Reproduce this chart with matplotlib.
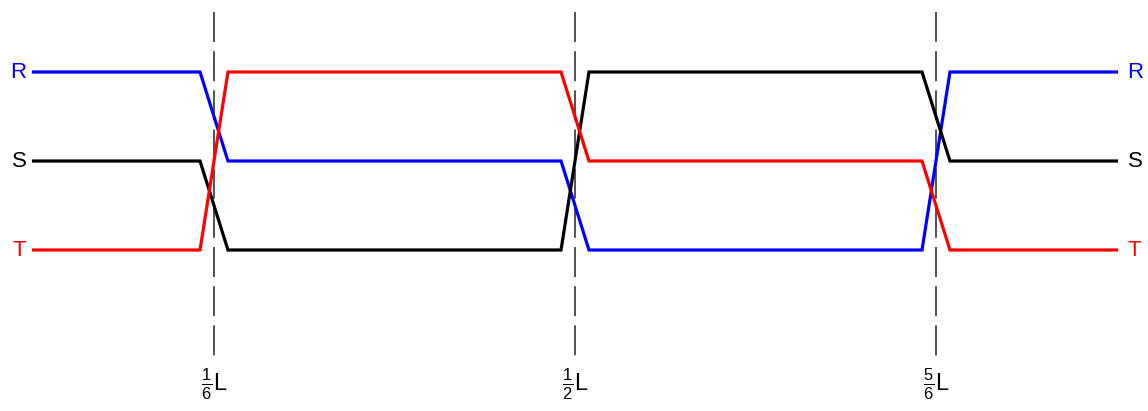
import numpy as np
import matplotlib
matplotlib.use('Agg')
import matplotlib.pyplot as plt

# transposition points as fractions of the line length L
cuts = [1/6, 1/2, 5/6]
cut_labels = [r'$\frac{1}{6}$L', r'$\frac{1}{2}$L', r'$\frac{5}{6}$L']

# level of each phase in each section (2 = top, 1 = middle, 0 = bottom)
phases = ['R', 'S', 'T']
levels = {
    'R': [2, 1, 0, 2],
    'S': [1, 0, 2, 1],
    'T': [0, 2, 1, 0],
}
colors = {'R': '#0000ff', 'S': '#000000', 'T': '#ff0000'}
# labels at the ends of the line
left_names = {2: 'R', 1: 'S', 0: 'T'}
right_names = {2: 'R', 1: 'S', 0: 'T'}

half_w = 0.0129  # half width of a crossover, in units of L

plt.rcParams['font.family'] = ['Liberation Sans', 'DejaVu Sans']
plt.rcParams['mathtext.fontset'] = 'custom'
plt.rcParams['mathtext.rm'] = 'Liberation Sans'

fig = plt.figure(figsize=(11.48, 4.11), dpi=100)
ax = fig.add_axes([0, 0, 1, 1])
ax.set_xlim(-33.5 / 1083, (1148 - 33.5) / 1083)
ax.set_ylim((250 - 411) / 89, 250 / 89)
ax.axis('off')

for p in phases:
    xs = [0.0]
    ys = [levels[p][0]]
    for i, c in enumerate(cuts):
        xs += [c - half_w, c + half_w]
        ys += [levels[p][i], levels[p][i + 1]]
    xs.append(1.0)
    ys.append(levels[p][-1])
    ax.plot(xs, ys, color=colors[p], lw=2.3, solid_joinstyle='miter', zorder=3)

for c, lab in zip(cuts, cut_labels):
    ax.plot([c, c], [(250 - 12) / 89, (250 - 357) / 89], color='#333333',
            lw=1.2, dashes=(18, 5.5), zorder=2)
    ax.text(c, (250 - 384) / 89, lab, ha='center', va='center', fontsize=17)

for lv, name in left_names.items():
    ax.annotate(name, (0, lv), xytext=(-5, 0), textcoords='offset points',
                ha='right', va='center', fontsize=16, color=colors[name])
for lv, name in right_names.items():
    ax.annotate(name, (1, lv), xytext=(8, 0), textcoords='offset points',
                ha='left', va='center', fontsize=16, color=colors[name])

fig.savefig('out.png', dpi=100)
